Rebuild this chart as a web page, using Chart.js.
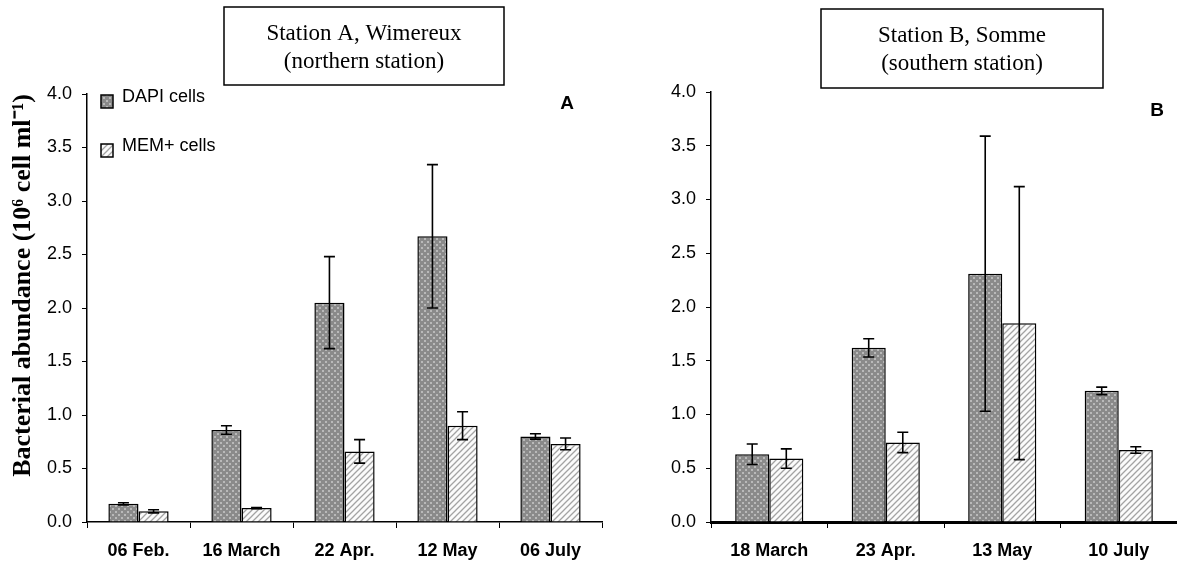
<!DOCTYPE html>
<html>
<head>
<meta charset="utf-8">
<script src="https://cdn.jsdelivr.net/npm/chart.js@4.4.1/dist/chart.umd.min.js"></script>
<style>
  html, body { margin: 0; padding: 0; background: #fff; }
  #wrap { position: relative; width: 1177px; height: 574px; overflow: hidden; }
  canvas { position: absolute; top: 0; }
  #chartA { left: 0; }
  #chartB { left: 600px; }
</style>
</head>
<body>
<div id="wrap">
  <canvas id="chartA" width="610" height="574"></canvas>
  <canvas id="chartB" width="577" height="574"></canvas>
</div>
<script>
// --- data (10^6 cells per ml) ---
const datesA = ['06 Feb.', '16 March', '22 Apr.', '12 May', '06 July'];
const dapiA = [0.17, 0.86, 2.05, 2.67, 0.80];
const dapiErrA = [0.01, 0.04, 0.43, 0.67, 0.025];
const memA = [0.10, 0.13, 0.66, 0.90, 0.73];
const memErrA = [0.015, 0.005, 0.11, 0.13, 0.055];

const datesB = ['18 March', '23 Apr.', '13 May', '10 July'];
const dapiB = [0.63, 1.62, 2.31, 1.22];
const dapiErrB = [0.095, 0.085, 1.28, 0.035];
const memB = [0.59, 0.74, 1.85, 0.67];
const memErrB = [0.09, 0.095, 1.27, 0.03];

const seriesNames = ['DAPI cells', 'MEM+ cells'];
const yMin = 0, yMax = 4, yStep = 0.5;

const SANS = '"Liberation Sans", Arial, sans-serif';
const SERIF = '"Liberation Serif", "Times New Roman", serif';

// fill patterns like the old spreadsheet ones
function dotPattern(ctx) {
    const c = document.createElement('canvas');
    c.width = 6; c.height = 6;
    const g = c.getContext('2d');
    g.fillStyle = '#8a8a8a';
    g.fillRect(0, 0, 6, 6);
    g.fillStyle = '#b9b9b9';
    g.fillRect(1, 1, 2, 2);
    g.fillRect(4, 4, 2, 2);
    return ctx.createPattern(c, 'repeat');
}

function hatchPattern(ctx) {
    const c = document.createElement('canvas');
    c.width = 6; c.height = 6;
    const g = c.getContext('2d');
    g.fillStyle = '#fbfbfb';
    g.fillRect(0, 0, 6, 6);
    g.strokeStyle = '#a3a3a3';
    g.lineWidth = 1.3;
    g.beginPath();
    g.moveTo(-3, 3); g.lineTo(3, -3);
    g.moveTo(0, 6); g.lineTo(6, 0);
    g.moveTo(3, 9); g.lineTo(9, 3);
    g.stroke();
    return ctx.createPattern(c, 'repeat');
}

// error bars drawn from the dataset values through the y scale
const errorBars = {
    id: 'errorBars',
    afterDatasetsDraw(chart) {
        const ctx = chart.ctx;
        const y = chart.scales.y;
        ctx.save();
        ctx.strokeStyle = '#000';
        ctx.lineWidth = 1.6;
        chart.data.datasets.forEach((ds, i) => {
            chart.getDatasetMeta(i).data.forEach((bar, j) => {
                const v = ds.data[j], e = ds.errors[j];
                const top = y.getPixelForValue(v + e);
                const bot = y.getPixelForValue(v - e);
                ctx.beginPath();
                ctx.moveTo(bar.x, top); ctx.lineTo(bar.x, bot);
                ctx.moveTo(bar.x - 5.5, top); ctx.lineTo(bar.x + 5.5, top);
                ctx.moveTo(bar.x - 5.5, bot); ctx.lineTo(bar.x + 5.5, bot);
                ctx.stroke();
            });
        });
        ctx.restore();
    }
};

// station box, panel letter and (panel A only) the legend
const decor = {
    id: 'decor',
    afterDraw(chart, args, opts) {
        const ctx = chart.ctx;
        ctx.save();
        const b = opts.box;
        ctx.strokeStyle = '#000';
        ctx.lineWidth = 1.5;
        ctx.strokeRect(b.x, b.y, b.w, b.h);
        ctx.fillStyle = '#000';
        ctx.font = '23px ' + SERIF;
        ctx.textAlign = 'center';
        ctx.textBaseline = 'middle';
        b.lines.forEach((t, i) => ctx.fillText(t, b.x + b.w / 2, b.y + 27 + i * 28));

        ctx.font = 'bold 19px ' + SANS;
        ctx.fillText(opts.letter.text, opts.letter.x, opts.letter.y);

        if (opts.legend) {
            ctx.textAlign = 'left';
            ctx.font = '18px ' + SANS;
            chart.data.datasets.forEach((ds, i) => {
                const cy = opts.legend.y + i * opts.legend.gap;
                ctx.fillStyle = ds.backgroundColor;
                ctx.fillRect(opts.legend.x, cy - 6, 12, 13);
                ctx.lineWidth = 1.5;
                ctx.strokeRect(opts.legend.x, cy - 6, 12, 13);
                ctx.fillStyle = '#000';
                ctx.fillText(ds.label, opts.legend.x + 21, cy - 4);
            });
        }
        ctx.restore();
    }
};

function makeChart(id, labels, dapi, dapiErr, mem, memErr, cfg) {
    const ctx = document.getElementById(id).getContext('2d');
    return new Chart(ctx, {
        type: 'bar',
        data: {
            labels: labels,
            datasets: [{
                label: seriesNames[0],
                data: dapi,
                errors: dapiErr,
                backgroundColor: dotPattern(ctx),
                borderColor: '#000',
                borderWidth: 1.5,
                categoryPercentage: 0.585,
                barPercentage: 1.0
            }, {
                label: seriesNames[1],
                data: mem,
                errors: memErr,
                backgroundColor: hatchPattern(ctx),
                borderColor: '#000',
                borderWidth: 1.5,
                categoryPercentage: 0.585,
                barPercentage: 1.0
            }]
        },
        options: {
            responsive: false,
            animation: false,
            layout: { padding: cfg.padding },
            scales: {
                x: {
                    grid: { drawOnChartArea: false, drawTicks: true, tickLength: 6, color: '#000', lineWidth: 1 },
                    border: { color: '#000', width: cfg.xAxisWidth },
                    ticks: { color: '#000', font: { family: SANS, size: 18, weight: 'bold' }, padding: 12, maxRotation: 0 },
                    afterFit: s => { s.height = 46; }
                },
                y: {
                    min: yMin,
                    max: yMax,
                    grid: { drawOnChartArea: false, drawTicks: true, tickLength: 5, color: '#000', lineWidth: 1 },
                    border: { color: '#000', width: 1.5 },
                    ticks: {
                        stepSize: yStep,
                        color: '#000',
                        padding: 10,
                        font: { family: SANS, size: 18 },
                        callback: v => v.toFixed(1)
                    },
                    title: cfg.yTitle,
                    afterFit: s => { s.width = cfg.yWidth; }
                }
            },
            plugins: {
                legend: { display: false },
                tooltip: { enabled: false },
                decor: cfg.decor
            }
        },
        plugins: [errorBars, decor]
    });
}

makeChart('chartA', datesA, dapiA, dapiErrA, memA, memErrA, {
    padding: { left: 0, right: 8, top: 94, bottom: 6 },
    yWidth: 87,
    xAxisWidth: 1.5,
    yTitle: {
        display: true,
        text: 'Bacterial abundance (10\u2076 cell ml\u207B\u00B9)',
        color: '#000',
        align: 'end',
        font: { family: SERIF, size: 26, weight: 'bold' },
        padding: { top: 8, bottom: 0 }
    },
    decor: {
        box: { x: 224, y: 7, w: 280, h: 78, lines: ['Station A, Wimereux', '(northern station)'] },
        letter: { text: 'A', x: 567, y: 104 },
        legend: { x: 101, y: 101, gap: 49 }
    }
});

makeChart('chartB', datesB, dapiB, dapiErrB, memB, memErrB, {
    padding: { left: 0, right: 0, top: 92, bottom: 6 },
    yWidth: 111,
    xAxisWidth: 3,
    yTitle: { display: false },
    decor: {
        box: { x: 221, y: 9, w: 282, h: 79, lines: ['Station B, Somme', '(southern station)'] },
        letter: { text: 'B', x: 557, y: 111 }
    }
});
</script>
</body>
</html>
